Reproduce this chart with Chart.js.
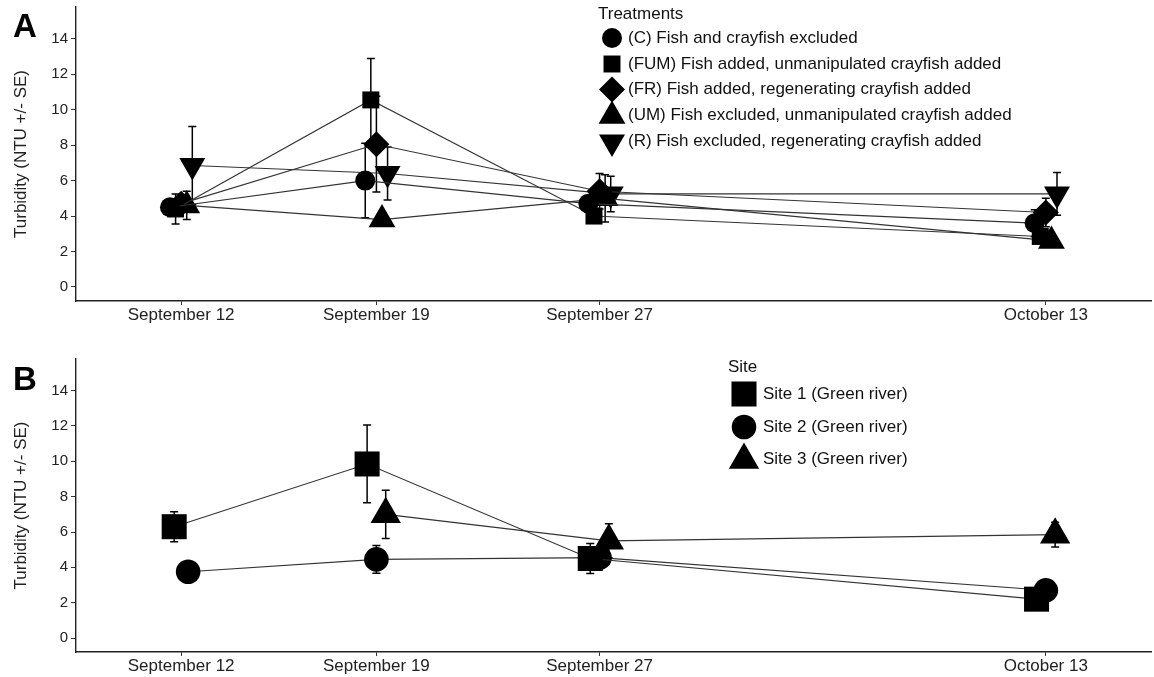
<!DOCTYPE html>
<html>
<head>
<meta charset="utf-8">
<script src="https://cdn.jsdelivr.net/npm/chart.js@4.4.0/dist/chart.umd.min.js"></script>
<style>
  body { margin: 0; background: #fff; }
  .panel { position: absolute; left: 0; width: 1154px; }
  #wrapA { top: 0; height: 330px; }
  #wrapB { top: 330px; height: 347px; }
</style>
</head>
<body>
<div class="panel" id="wrapA"><canvas id="chartA"></canvas></div>
<div class="panel" id="wrapB"><canvas id="chartB"></canvas></div>
<script>
// sampling dates (days after September 12) and their labels
const days = [0, 7, 15, 31];
const dateLabels = ['September 12', 'September 19', 'September 27', 'October 13'];
const yTicks = [0, 2, 4, 6, 8, 10, 12, 14];

// panel A: treatments
const treatmentNames = [
  '(C) Fish and crayfish excluded',
  '(FUM) Fish added, unmanipulated crayfish added',
  '(FR) Fish added, regenerating crayfish added',
  '(UM) Fish excluded, unmanipulated crayfish added',
  '(R) Fish excluded, regenerating crayfish added'
];
const turbC   = [4.5, 6.0, 4.7, 3.6];
const seC     = [0.2, 2.1, 0.3, 0.75];
const turbFUM = [4.4, 10.55, 4.0, 2.85];
const seFUM   = [0.85, 2.33, 0.35, 0.3];
const turbFR  = [4.7, 8.05, 5.4, 4.2];
const seFR    = [0.5, 2.7, 1.0, 0.8];
const turbUM  = [4.6, 3.8, 5.0, 2.6];
const seUM    = [0.8, 0.3, 1.33, 0.3];
const turbR   = [6.85, 6.4, 5.25, 5.25];
const seR     = [2.2, 1.5, 1.0, 1.2];

// panel B: sites
const siteNames = ['Site 1 (Green river)', 'Site 2 (Green river)', 'Site 3 (Green river)'];
const turbSite1 = [6.3, 9.85, 4.5, 2.2];
const seSite1   = [0.85, 2.2, 0.85, 0.15];
const turbSite2 = [3.75, 4.45, 4.55, 2.7];
const seSite2   = [0.1, 0.79, 0.2, 0.15];
const turbSite3 = [null, 7.0, 5.5, 5.85];
const seSite3   = [null, 1.37, 0.97, 0.7];

const FONT = '"Liberation Sans", Arial, sans-serif';
const DODGE = 1; // dodge width in days

// position_dodge-like offsets: groups present at a date share the dodge width
function dodgeOffsets(series) {
  const out = series.map(() => []);
  days.forEach((d, i) => {
    const present = series.map((s, k) => (s[i] == null ? -1 : k)).filter(k => k >= 0);
    const n = present.length;
    present.forEach((k, j) => { out[k][i] = (j - (n - 1) / 2) * DODGE / n; });
  });
  return out;
}

function makeDatasets(values, errors, names, shapes) {
  const offs = dodgeOffsets(values);
  return values.map((vals, k) => {
    const pts = [];
    const bars = [];
    vals.forEach((v, i) => {
      if (v == null) return;
      const x = days[i] + offs[k][i];
      pts.push({ x: x, y: v });
      bars.push({ x: x, lo: v - errors[k][i], hi: v + errors[k][i] });
    });
    return {
      label: names[k],
      data: pts,
      errorBars: bars,
      borderColor: '#333',
      borderWidth: 1.1,
      backgroundColor: '#000',
      pointBackgroundColor: '#000',
      pointBorderColor: '#000',
      pointBorderWidth: 0,
      pointStyle: shapes[k].style,
      pointRadius: shapes[k].r,
      pointRotation: shapes[k].rot || 0,
      tension: 0
    };
  });
}

const errorBarPlugin = {
  id: 'errorBars',
  beforeDatasetsDraw(chart) {
    const ctx = chart.ctx, xs = chart.scales.x, ys = chart.scales.y;
    ctx.save();
    ctx.strokeStyle = '#000';
    ctx.lineWidth = 1.5;
    chart.data.datasets.forEach(ds => {
      ds.errorBars.forEach(b => {
        const px = xs.getPixelForValue(b.x);
        const y1 = ys.getPixelForValue(b.lo), y2 = ys.getPixelForValue(b.hi);
        ctx.beginPath();
        ctx.moveTo(px, y1); ctx.lineTo(px, y2);
        ctx.moveTo(px - 4, y1); ctx.lineTo(px + 4, y1);
        ctx.moveTo(px - 4, y2); ctx.lineTo(px + 4, y2);
        ctx.stroke();
      });
    });
    ctx.restore();
  }
};

function drawShape(ctx, style, x, y, r, rot) {
  ctx.beginPath();
  if (style === 'circle') {
    ctx.arc(x, y, r, 0, Math.PI * 2);
  } else if (style === 'rect') {
    const s = Math.SQRT1_2 * r;
    ctx.rect(x - s, y - s, 2 * s, 2 * s);
  } else if (style === 'rectRot') {
    ctx.moveTo(x, y - r); ctx.lineTo(x + r, y); ctx.lineTo(x, y + r); ctx.lineTo(x - r, y);
    ctx.closePath();
  } else if (style === 'triangle') {
    let a = (rot || 0) * Math.PI / 180;
    ctx.moveTo(x + Math.sin(a) * r, y - Math.cos(a) * r);
    a += 2 * Math.PI / 3;
    ctx.lineTo(x + Math.sin(a) * r, y - Math.cos(a) * r);
    a += 2 * Math.PI / 3;
    ctx.lineTo(x + Math.sin(a) * r, y - Math.cos(a) * r);
    ctx.closePath();
  }
  ctx.fill();
}

// panel letter and in-plot legend
const decorPlugin = {
  id: 'decor',
  afterDraw(chart, args, opts) {
    const ctx = chart.ctx;
    ctx.save();
    ctx.fillStyle = '#000';
    ctx.font = 'bold 33px ' + FONT;
    ctx.textBaseline = 'alphabetic';
    ctx.fillText(opts.letter, 13, opts.letterY);
    ctx.font = '17px ' + FONT;
    ctx.textBaseline = 'middle';
    ctx.fillStyle = '#111';
    ctx.fillText(opts.title, opts.titleX, opts.titleY);
    chart.data.datasets.forEach((ds, k) => {
      const y = opts.rowY[k];
      ctx.fillStyle = '#000';
      drawShape(ctx, ds.pointStyle, opts.markerX, y + (opts.markerDy[k] || 0), ds.pointRadius, ds.pointRotation);
      ctx.fillStyle = '#111';
      ctx.fillText(ds.label, opts.textX, y);
    });
    ctx.restore();
  }
};

function makeOptions(padTop, xHeight, decor) {
  return {
    responsive: true,
    maintainAspectRatio: false,
    animation: false,
    layout: { autoPadding: false, padding: { left: 0, right: 3, top: padTop, bottom: 0 } },
    plugins: { legend: { display: false }, tooltip: { enabled: false }, decor: decor },
    scales: {
      x: {
        type: 'linear', min: -3.77, max: 34.77,
        afterBuildTicks: s => { s.ticks = days.map(v => ({ value: v })); },
        afterFit: s => { s.height = xHeight; s.paddingLeft = 0; s.paddingRight = 0; },
        ticks: {
          autoSkip: false, maxRotation: 0, padding: 0,
          color: '#222', font: { family: FONT, size: 17 },
          callback: v => dateLabels[days.indexOf(v)]
        },
        grid: { drawOnChartArea: false, drawTicks: true, tickLength: 4, color: '#333', lineWidth: 1 },
        border: { display: true, color: '#222', width: 1.4 }
      },
      y: {
        min: -0.79, max: 15.79,
        afterBuildTicks: s => { s.ticks = yTicks.map(v => ({ value: v })); },
        afterFit: s => { s.width = 76; s.paddingTop = 0; s.paddingBottom = 0; },
        ticks: { autoSkip: false, padding: 3, color: '#222', font: { family: FONT, size: 15 } },
        grid: { drawOnChartArea: false, drawTicks: true, tickLength: 5, color: '#333', lineWidth: 1 },
        border: { display: true, color: '#222', width: 1.4 },
        title: {
          display: true, text: 'Turbidity (NTU +/- SE)', color: '#222',
          font: { family: FONT, size: 17 }, padding: { top: 11, bottom: 0 }
        }
      }
    }
  };
}

const shapesA = [
  { style: 'circle', r: 10 },
  { style: 'rect', r: 12 },
  { style: 'rectRot', r: 13 },
  { style: 'triangle', r: 15.5 },
  { style: 'triangle', r: 15, rot: 180 }
];
const shapesB = [
  { style: 'rect', r: 17.7 },
  { style: 'circle', r: 12.3 },
  { style: 'triangle', r: 17.5 }
];

new Chart(document.getElementById('chartA'), {
  type: 'line',
  data: {
    datasets: makeDatasets([turbC, turbFUM, turbFR, turbUM, turbR],
      [seC, seFUM, seFR, seUM, seR], treatmentNames, shapesA)
  },
  options: makeOptions(7, 29, {
    letter: 'A', letterY: 37, title: 'Treatments', titleX: 598, titleY: 14,
    markerX: 612, textX: 628, rowY: [38, 64, 89.5, 115, 141], markerDy: [0, 0, 0, 1, 1]
  }),
  plugins: [errorBarPlugin, decorPlugin]
});

new Chart(document.getElementById('chartB'), {
  type: 'line',
  data: {
    datasets: makeDatasets([turbSite1, turbSite2, turbSite3],
      [seSite1, seSite2, seSite3], siteNames, shapesB)
  },
  options: makeOptions(29, 25, {
    letter: 'B', letterY: 60, title: 'Site', titleX: 728, titleY: 37,
    markerX: 744, textX: 763, rowY: [64, 97, 129], markerDy: [0, 0, 1]
  }),
  plugins: [errorBarPlugin, decorPlugin]
});
</script>
</body>
</html>
